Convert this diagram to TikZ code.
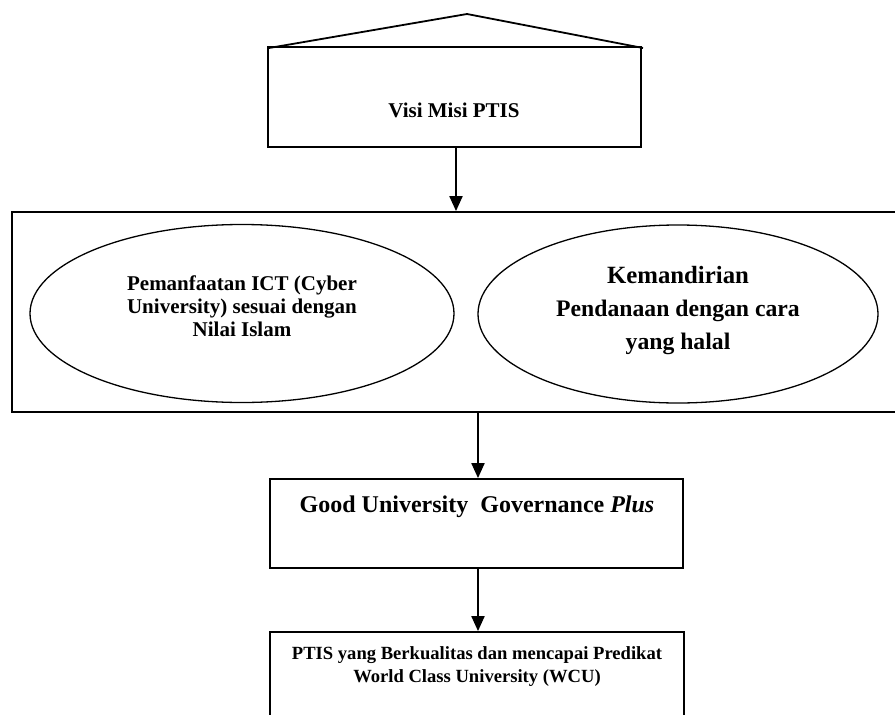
\documentclass[tikz,border=0pt]{standalone}
\usepackage{fontspec}
\setmainfont{Liberation Serif}
\usetikzlibrary{arrows.meta,shapes.geometric}
\tikzset{
  boxline/.style={draw, line width=1.8pt, rectangle, inner sep=0pt},
  oval/.style={draw, line width=1.3pt, ellipse, inner sep=0pt},
  arr/.style={line width=2pt, -{Triangle[length=15pt,width=13pt]}},
  txt/.style={align=center, inner sep=0pt, font=\bfseries}
}
\begin{document}
\begin{tikzpicture}[x=1pt,y=-1pt]
\useasboundingbox (0,0) rectangle (895,715);
\clip (0,0) rectangle (895,715);
% top box with roof
\node[boxline, minimum width=373pt, minimum height=100pt] (visi) at (454.5,97) {};
\coordinate (apex) at (467,14);
\coordinate (roofL) at (269,48);
\coordinate (roofR) at (643,48);
\draw[line width=1.8pt, line join=miter] (roofL) -- (apex) -- (roofR);
\node[txt, font=\bfseries\fontsize{21}{24}\selectfont] (visitxt) at (454,110) {Visi Misi PTIS};
% panel
\node[boxline, minimum width=900pt, minimum height=200pt] (panel) at (462,312) {};
\node[oval, minimum width=424pt, minimum height=178pt] (e1) at (242,313.5) {};
\node[oval, minimum width=400pt, minimum height=178pt] (e2) at (678,314) {};
\node[txt, font=\bfseries\fontsize{21}{23}\selectfont] (e1txt) at (242,306) {Pemanfaatan ICT (Cyber\\University) sesuai dengan\\Nilai Islam};
\node[txt, font=\bfseries\fontsize{23.7}{33}\selectfont] (e2txt) at (678,310.5) {{\fontsize{24.8}{33}\selectfont Kemandirian}\\Pendanaan dengan cara\\yang halal};
% GUG box
\node[boxline, minimum width=413pt, minimum height=89pt] (gug) at (476.5,523.5) {};
\node[txt, font=\bfseries\fontsize{24}{28}\selectfont] (gugtxt) at (477,507) {Good University\ \ Governance \textit{Plus}};
% bottom box
\node[boxline, minimum width=414pt, minimum height=110pt] (wcu) at (477,687) {};
\node[txt, font=\bfseries\fontsize{18.6}{23}\selectfont] (wcutxt) at (477,666.5) {PTIS yang Berkualitas dan mencapai Predikat\\World Class University (WCU)};
% arrows
\draw[arr] (visi.south -| 456,0) -- (panel.north -| 456,0);
\draw[arr] (panel.south -| 478,0) -- (gug.north -| 478,0);
\draw[arr] (gug.south -| 478,0) -- (wcu.north -| 478,0);
\end{tikzpicture}
\end{document}
